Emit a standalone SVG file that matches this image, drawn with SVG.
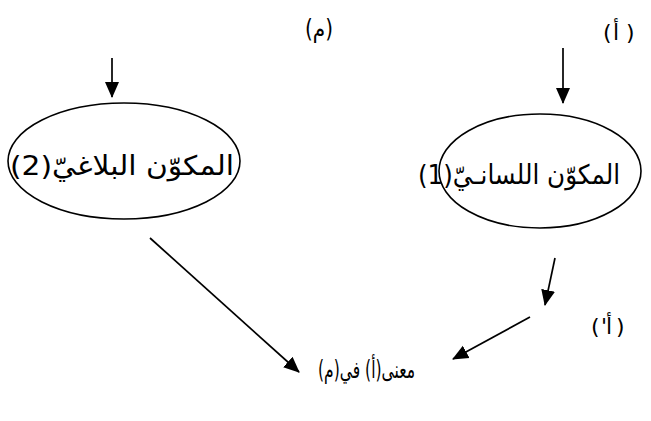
<svg xmlns="http://www.w3.org/2000/svg" width="651" height="421" viewBox="0 0 651 421">
<style>
.t{font-family:"DejaVu Sans","Noto Sans",sans-serif;fill:#000}
.lbl{font-size:27px}
.s{font-size:22px}
.e{fill:none;stroke:#000;stroke-width:1.6}
.c{stroke:#000;stroke-width:1.7;fill:none;marker-end:url(#ah)}
</style>
<defs>
<marker id="ah" markerUnits="userSpaceOnUse" markerWidth="16" markerHeight="16" viewBox="0 0 16 16" refX="15" refY="8" orient="auto">
<path d="M0,1 L16,8 L0,15 Z" fill="#000"/>
</marker>
</defs>
<rect width="651" height="421" fill="#fff"/>
<g id="connectors">
<line class="c" x1="112" y1="58" x2="112" y2="97"/>
<line class="c" x1="563" y1="48" x2="563" y2="103"/>
<line class="c" x1="555" y1="258" x2="545" y2="305"/>
<line class="c" x1="530" y1="317" x2="453" y2="359"/>
<line class="c" x1="150" y1="238" x2="299" y2="372"/>
</g>
<g id="label-m">
<text class="t" x="305" y="37" font-size="24" textLength="28" lengthAdjust="spacingAndGlyphs" direction="ltr">(م)</text>
</g>
<g id="label-a">
<text class="t s" x="603" y="40">(</text>
<text class="t s" x="616" y="40" text-anchor="middle">أ</text>
<text class="t s" x="626" y="40">)</text>
</g>
<g id="node-balaghi">
<ellipse class="e" cx="124" cy="161" rx="116" ry="58"/>
<text class="t lbl" x="10" y="175" textLength="224" lengthAdjust="spacingAndGlyphs" direction="ltr">(2)المكوّن البلاغيّ</text>
</g>
<g id="node-lisani">
<ellipse class="e" cx="540" cy="171" rx="101" ry="57"/>
<text class="t lbl" x="418" y="184" textLength="202" lengthAdjust="spacingAndGlyphs" direction="ltr">(1)المكوّن اللسانـيّ</text>
</g>
<g id="label-a-prime">
<text class="t s" x="591" y="334">(</text>
<text class="t s" x="601" y="334">'</text>
<text class="t s" x="609" y="334" text-anchor="middle">أ</text>
<text class="t s" x="616" y="334">)</text>
</g>
<g id="label-result">
<text class="t" x="415" y="378" font-size="24" textLength="97" lengthAdjust="spacingAndGlyphs" direction="rtl" text-anchor="start">معنى(أ) في(م)</text>
</g>
</svg>
